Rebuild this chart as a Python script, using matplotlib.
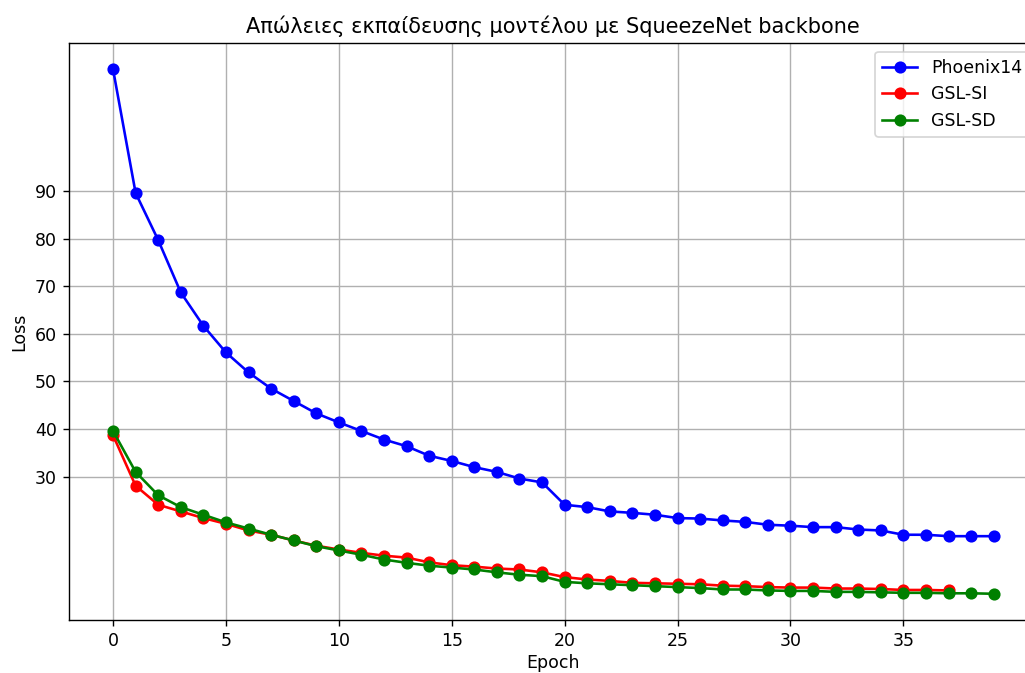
import matplotlib
matplotlib.use('Agg')
import numpy as np
from matplotlib import pyplot as plt

# loss per epoch
phoenix14 = [115.6, 89.6, 79.7, 68.7, 61.7, 56.1, 51.9, 48.5, 45.9, 43.3,
             41.4, 39.6, 37.8, 36.4, 34.4, 33.3, 32.0, 31.0, 29.6, 28.8,
             24.1, 23.6, 22.7, 22.4, 22.0, 21.3, 21.2, 20.8, 20.5, 19.9,
             19.7, 19.4, 19.4, 18.9, 18.7, 17.8, 17.8, 17.5, 17.5, 17.5]
gsl_si = [38.7, 28.1, 24.1, 22.7, 21.3, 20.1, 18.7, 17.8, 16.6, 15.5,
          14.7, 14.0, 13.4, 13.0, 12.0, 11.4, 11.1, 10.7, 10.5, 9.9,
          8.9, 8.4, 8.1, 7.7, 7.6, 7.5, 7.4, 7.1, 7.0, 6.8,
          6.7, 6.7, 6.5, 6.5, 6.4, 6.2, 6.2, 6.1]
gsl_sd = [39.6, 31.0, 26.1, 23.6, 22.0, 20.4, 19.1, 17.8, 16.6, 15.4,
          14.5, 13.6, 12.6, 11.9, 11.3, 10.9, 10.5, 9.9, 9.4, 9.1,
          7.9, 7.6, 7.4, 7.2, 7.0, 6.8, 6.6, 6.3, 6.3, 6.1,
          6.0, 6.0, 5.8, 5.8, 5.7, 5.6, 5.6, 5.5, 5.5, 5.4]
xticks = [0, 5, 10, 15, 20, 25, 30, 35]
yticks = [30, 40, 50, 60, 70, 80, 90]

# the reference looks like a 125 dpi render, cropped on the right edge
fig = plt.figure(figsize=(8.2, 5.384), dpi=125)
ax = fig.add_axes([69 / 1025, 53 / 673, 968.7 / 1025, 577 / 673])

ax.plot(np.arange(len(phoenix14)), phoenix14, 'o-', color='blue', label='Phoenix14')
ax.plot(np.arange(len(gsl_si)), gsl_si, 'o-', color='red', label='GSL-SI')
ax.plot(np.arange(len(gsl_sd)), gsl_sd, 'o-', color='green', label='GSL-SD')

ax.set_xticks(xticks)
ax.set_yticks(yticks)
ax.set_title('Απώλειες εκπαίδευσης μοντέλου με SqueezeNet backbone')
ax.set_xlabel('Epoch', labelpad=2.5)
ax.set_ylabel('Loss')
ax.grid(True)
ax.legend(loc='upper right')

plt.savefig('out.png', dpi=125)
